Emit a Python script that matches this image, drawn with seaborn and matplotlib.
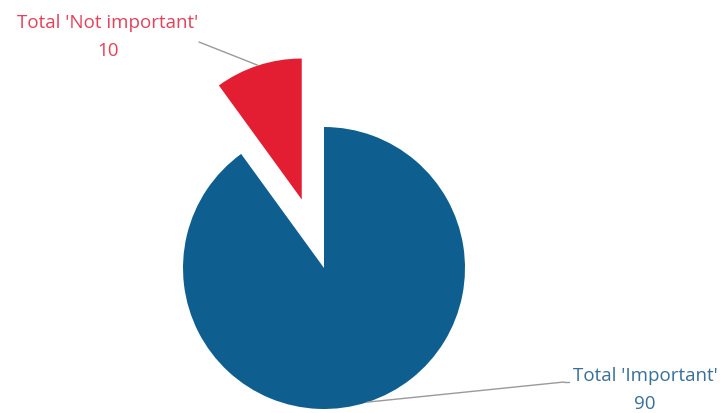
import numpy as np
import matplotlib
matplotlib.use("Agg")
import matplotlib.pyplot as plt
import seaborn as sns

categories = ["Total 'Not important'", "Total 'Important'"]
values = [10, 90]
colors = ["#E31E32", "#0E5F8F"]
text_colors = ["#E5415A", "#3A6F98"]

sns.set_theme(style="white")
plt.rcParams['font.family'] = ['Open Sans', 'DejaVu Sans']

W, H = 724, 414
fig = plt.figure(figsize=(W / 100, H / 100), dpi=100)
ax = fig.add_axes([0, 0, 1, 1])

R = 141
cx, cy = 324, H - 269
explode = [72, 0.0]
wedges, _ = ax.pie(values, colors=colors, startangle=90, counterclock=True,
                   radius=R, center=(cx, cy), explode=explode,
                   wedgeprops=dict(linewidth=0))
ax.set_xlim(0, W)
ax.set_ylim(0, H)
ax.set_aspect('equal')
ax.axis('off')

# label positions (pixel coords, top-left origin)
label_pos = [(108, 37), (645, 390)]
line_end = [(199, 43), (564, 383)]
for i, w in enumerate(wedges):
    ang = np.deg2rad((w.theta1 + w.theta2) / 2)
    wx, wy = w.center
    px = wx + w.r * np.cos(ang)
    py = wy + w.r * np.sin(ang)
    ex, ey = line_end[i]
    ax.plot([px, ex], [py, H - ey], color="#9A9A9A", lw=1.0, zorder=1)
    if i == 1:
        ax.plot([ex, ex + 5], [H - ey, H - ey], color="#9A9A9A", lw=1.0)
    lx, ly = label_pos[i]
    ax.text(lx, H - ly, f"{categories[i]}\n{values[i]}", ha="center", va="center",
            color=text_colors[i], fontsize=13.5, linespacing=1.7)

fig.savefig("out.png", dpi=100)
